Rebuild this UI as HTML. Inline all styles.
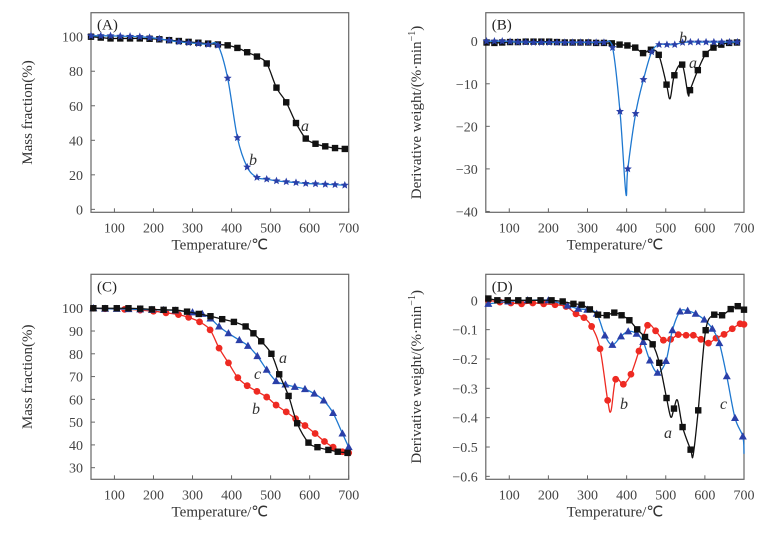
<!DOCTYPE html>
<html><head><meta charset="utf-8">
<style>
html,body{margin:0;padding:0;background:#fff;}
svg{display:block;font-family:"Liberation Serif",serif;}
</style></head>
<body>
<svg id="fig" width="769" height="535" viewBox="0 0 769 535" xmlns="http://www.w3.org/2000/svg"></svg>
<script>
// Panel A: mass fraction
const aX = [40,65,90,115,140,165,190,215,240,265,290,315,340,365,390,415,440,465,490,515,540,565,590,615,640,665,690];
const aA = [100,99.5,99,99,99,99,98.8,98.5,98,97.5,97,96.5,96,95.5,95,93.5,91,88.5,84.5,70.5,62,50,41,38,36.5,35.5,35];
const aB = [100.5,100.5,100.5,100.3,100.2,100,99.5,98.8,97.8,97,96.5,96,95.5,95,76,41.5,24.5,18.5,17.5,16.5,16,15.5,15,14.8,14.5,14.3,14];
// Panel B: derivative
const bXa = [42,62,82,102,122,142,162,182,202,222,242,262,282,302,322,342,362,382,402,422,442,462,482,502,522,542,562,582,602,622,642,662,682];
const bYa = [-0.3,-0.4,-0.3,-0.2,-0.2,-0.1,-0.1,-0.1,-0.1,-0.2,-0.3,-0.3,-0.3,-0.3,-0.4,-0.4,-0.5,-0.8,-1,-1.5,-2.8,-2,-3.2,-10.2,-8,-5.5,-11.5,-6.8,-3,-1.5,-0.8,-0.4,-0.3];
const bPkXa = [511,557];
const bPkYa = [-13.5,-12.5];
const bXb = [42,62,82,102,122,142,162,182,202,222,242,262,282,302,322,342,364,383,403,423,443,464,483,503,523,543,563,583,603,623,643,663,683];
const bYb = [0,0,0,-0.1,-0.2,-0.2,-0.3,-0.3,-0.3,-0.3,-0.3,-0.3,-0.3,-0.3,-0.3,-0.3,-1.5,-16.5,-30,-17,-9,-2.5,-0.8,-0.8,-0.8,-0.3,-0.2,-0.2,-0.2,-0.2,-0.2,-0.2,-0.2];
const bPkXb = [398];
const bPkYb = [-35.7];
// Panel C: mass fraction
const cXa = [46,76,106,136,166,196,226,256,286,316,346,376,406,436,456,476,502,522,546,568,597,620,648,672,697];
const cYa = [100,100,100,100,99.8,99.5,99.3,99.2,98.5,97.5,96.5,95.2,94,92,89,85.5,80,71,61.5,49.5,41,39,37.8,37,36.5];
const cXb = [46,76,126,166,200,232,264,290,318,345,368,392,416,440,465,490,514,540,564,588,614,638,660,684,700];
const cYb = [100,99.8,99.5,99.2,98.7,98,97.2,96,94,90.5,82.5,76,69.5,66,63.5,61,57.5,54.5,51.5,48.5,45,41.5,39,37,36.5];
const cXc = [46,76,106,136,166,196,226,256,300,325,346,368,392,420,442,466,490,514,538,562,588,612,636,660,684,700];
const cYc = [100,99.8,99.7,99.6,99.5,99.3,99.2,99,98.2,97.5,95.5,92,89,86,83.5,79,73,68,66.5,65.5,64.5,62.5,59.5,54,45,39];
// Panel D: derivative
const dXa = [46.5,69.5,96,123,150,180,208,236.5,264,285,306,327,349,368.5,387,407,427,447,466.5,483.5,502,521,543,563.5,583,602,624,644,666,684,700];
const dYa = [0.006,0,0,0,0,0,0,-0.004,-0.012,-0.015,-0.031,-0.049,-0.051,-0.042,-0.051,-0.068,-0.099,-0.125,-0.15,-0.213,-0.333,-0.369,-0.432,-0.509,-0.375,-0.102,-0.049,-0.051,-0.03,-0.02,-0.032];
const dPkXa = [513,530,570];
const dPkYa = [-0.398,-0.341,-0.528];
const dXb = [46.5,76,104,131.5,160,188,217,245,270.5,291,310.5,332,351.5,372,391.5,411,431.5,453.5,474,494,512.5,532,552,570.5,590,609,628.5,649,670,690,700];
const dYb = [0,-0.006,-0.009,-0.012,-0.009,-0.012,-0.015,-0.021,-0.046,-0.059,-0.089,-0.165,-0.341,-0.269,-0.286,-0.252,-0.173,-0.085,-0.104,-0.136,-0.133,-0.117,-0.119,-0.119,-0.133,-0.146,-0.129,-0.116,-0.097,-0.08,-0.082];
const dPkXb = [360];
const dPkYb = [-0.377];
const dXc = [46.5,97.6,147,200,249,276.5,299.5,323.5,344.5,363.5,385.5,404,425.5,442.5,459.5,479,500.5,517,536.5,556,576.5,598.5,619,637,656,677,697];
const dYc = [-0.012,-0.004,0,0,-0.018,-0.029,-0.032,-0.046,-0.12,-0.152,-0.123,-0.106,-0.114,-0.142,-0.205,-0.247,-0.207,-0.102,-0.038,-0.036,-0.046,-0.066,-0.097,-0.146,-0.259,-0.401,-0.464];
const dPkXc = [700];
const dPkYc = [-0.523];

const xTicks = [100,200,300,400,500,600,700];
const yTicksA = [0,20,40,60,80,100];
const yTicksB = [0,-10,-20,-30,-40];
const yTicksC = [30,40,50,60,70,80,90,100];
const yTicksD = [0,-0.1,-0.2,-0.3,-0.4,-0.5,-0.6];
const yLabD = ['0','\u22120.1','\u22120.2','\u22120.3','\u22120.4','\u22120.5','\u22120.6'];

const NS='http://www.w3.org/2000/svg';
const svg=document.getElementById('fig');
function mk(tag,attrs,parent){const e=document.createElementNS(NS,tag);for(const k in attrs)e.setAttribute(k,attrs[k]);(parent||svg).appendChild(e);return e;}

function panel(o){
  const g=mk('g',{});
  
  
  const sx=v=>o.l+(v-40)/(700-40)*(o.r-o.l);
  const sy=v=>o.b-(v-o.y0)/(o.y1-o.y0)*(o.b-o.t);
  o.sx=sx;o.sy=sy;
  const frame=mk('rect',{x:o.l,y:o.t,width:o.r-o.l,height:o.b-o.t,fill:'none',stroke:'#666','stroke-width':1.2},g);
  
  
  xTicks.forEach(v=>{
    mk('line',{x1:sx(v),x2:sx(v),y1:o.b,y2:o.b-4,stroke:'#666'},g);
    const t=mk('text',{x:sx(v),y:o.b+20,'text-anchor':'middle','font-size':14,fill:'#444'},g);
    t.textContent=v;
    
    
  });
  o.yt.forEach((v,i)=>{
    mk('line',{x1:o.l,x2:o.l+4,y1:sy(v),y2:sy(v),stroke:'#666'},g);
    const t=mk('text',{x:o.l-8,y:sy(v)+5,'text-anchor':'end','font-size':14,fill:'#444'},g);
    t.textContent=o.yl?o.yl[i]:(v<0?'\u2212'+(-v):v);
    
    
  });
  const xt=mk('text',{x:(o.l+o.r)/2,y:o.b+37,'text-anchor':'middle','font-size':15,fill:'#333'},g);
  xt.textContent='Temperature/\u2103';
  
  
  const cy=(o.t+o.b)/2;
  const yt=mk('text',{x:o.ytx,y:cy,'text-anchor':'middle','font-size':15,fill:'#333',transform:`rotate(-90 ${o.ytx} ${cy})`},g);
  yt.innerHTML=o.ytitle;
  
  
  const pl=mk('text',{x:o.l+6,y:o.t+17,'font-size':15,fill:'#222'},g);
  pl.textContent=o.letter;
  
  
  return g;
}

function smooth(pts){
  let d=`M${pts[0][0]},${pts[0][1]}`;
  for(let i=0;i<pts.length-1;i++){
    const p0=pts[i-1]||pts[i],p1=pts[i],p2=pts[i+1],p3=pts[i+2]||p2;
    const c1=[p1[0]+(p2[0]-p0[0])/6,p1[1]+(p2[1]-p0[1])/6];
    const c2=[p2[0]-(p3[0]-p1[0])/6,p2[1]-(p3[1]-p1[1])/6];
    d+=`C${c1[0]},${c1[1]} ${c2[0]},${c2[1]} ${p2[0]},${p2[1]}`;
  }
  return d;
}

function star(cx,cy,r){let s='';for(let i=0;i<10;i++){const a=-Math.PI/2+i*Math.PI/5;const rr=i%2?r*0.45:r;s+=(cx+rr*Math.cos(a)).toFixed(2)+','+(cy+rr*Math.sin(a)).toFixed(2)+' ';}return s;}

function series(o,g,xs,ys,pkx,pky,color,lineColor,marker,name){
  const sg=mk('g',{},g);
  
  
  let all=xs.map((x,i)=>[x,ys[i]]);
  (pkx||[]).forEach((x,i)=>all.push([x,pky[i]]));
  all.sort((a,b)=>a[0]-b[0]);
  const pts=all.map(p=>[o.sx(p[0]),o.sy(p[1])]);
  const ln=mk('path',{d:smooth(pts),fill:'none',stroke:lineColor,'stroke-width':1.3},sg);
  
  
  xs.forEach((x,i)=>{
    const px=o.sx(x),py=o.sy(ys[i]);let m;
    if(marker==='square') m=mk('rect',{x:px-3.2,y:py-3.2,width:6.4,height:6.4,fill:color},sg);
    else if(marker==='circle') m=mk('circle',{cx:px,cy:py,r:3.4,fill:color},sg);
    else if(marker==='tri') m=mk('polygon',{points:`${px},${py-4.2} ${px-4},${py+3} ${px+4},${py+3}`,fill:color},sg);
    else m=mk('polygon',{points:star(px,py,4.2),fill:color},sg);
    
    
  });
}
function lab(g,x,y,t){const e=mk('text',{x:x,y:y,'font-size':16,'font-style':'italic',fill:'#333'},g);e.textContent=t;
  
  }

const BLK='#111',BLU='#2a3fa8',BLUL='#1e78d0',RED='#ee2a22';
const ymT='Mass fraction(%)';
const dwT='Derivative weight/(%\u00b7min<tspan dy="-6" font-size="10">\u22121</tspan><tspan dy="6">)</tspan>';

const A={name:'panel-a-mass',l:91,r:348.7,t:12.7,b:212.3,y0:-1.7,y1:113.9,yt:yTicksA,ytx:32,ytitle:ymT,letter:'(A)'};
let g=panel(A);
series(A,g,aX,aA,null,null,BLK,BLK,'square','series-a');
series(A,g,aX,aB,null,null,BLU,BLUL,'star','series-b');
lab(g,301,131,'a');lab(g,249,165,'b');

const B={name:'panel-b-derivative',l:485.8,r:744,t:12.7,b:212.3,y0:-40.2,y1:6.7,yt:yTicksB,ytx:421,ytitle:dwT,letter:'(B)'};
g=panel(B);
series(B,g,bXa,bYa,bPkXa,bPkYa,BLK,BLK,'square','series-a');
series(B,g,bXb,bYb,bPkXb,bPkYb,BLU,BLUL,'star','series-b');
lab(g,679,43,'b');lab(g,689,68,'a');

const C={name:'panel-c-mass',l:91,r:348.7,t:274.3,b:479.3,y0:24.9,y1:114.9,yt:yTicksC,ytx:32,ytitle:ymT,letter:'(C)'};
g=panel(C);
series(C,g,cXb,cYb,null,null,RED,RED,'circle','series-b');
series(C,g,cXc,cYc,null,null,BLU,BLUL,'tri','series-c');
series(C,g,cXa,cYa,null,null,BLK,BLK,'square','series-a');
lab(g,279,363,'a');lab(g,254,379,'c');lab(g,252,414,'b');

const D={name:'panel-d-derivative',l:485.8,r:744,t:274.3,b:479.3,y0:-0.61,y1:0.0886,yt:yTicksD,yl:yLabD,ytx:421,ytitle:dwT,letter:'(D)'};
g=panel(D);
series(D,g,dXb,dYb,dPkXb,dPkYb,RED,RED,'circle','series-b');
series(D,g,dXc,dYc,dPkXc,dPkYc,BLU,BLUL,'tri','series-c');
series(D,g,dXa,dYa,dPkXa,dPkYa,BLK,BLK,'square','series-a');
lab(g,620,409,'b');lab(g,664,438,'a');lab(g,720,409,'c');
</script>
</body></html>
